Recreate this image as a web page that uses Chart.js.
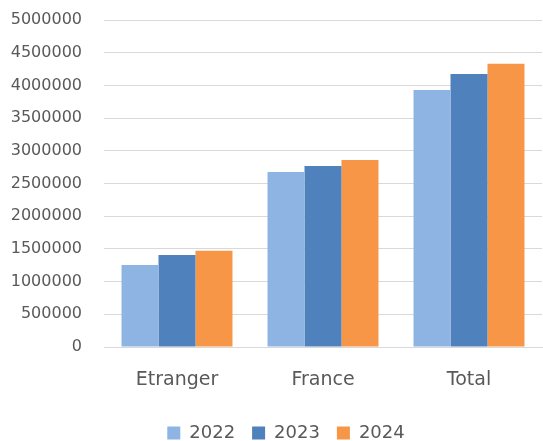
<!DOCTYPE html>
<html>
<head>
<meta charset="utf-8">
<script src="https://cdn.jsdelivr.net/npm/chart.js@4/dist/chart.umd.min.js"></script>
<style>
  body { margin: 0; background: #fff; }
  #wrap { width: 543px; height: 441px; }
</style>
</head>
<body>
<div id="wrap"><canvas id="chart" width="543" height="441"></canvas></div>
<script>
const categories = ["Etranger", "France", "Total"];
const years = ["2022", "2023", "2024"];
const values2022 = [1254000, 2676000, 3930000];
const values2023 = [1407000, 2768000, 4175000];
const values2024 = [1472000, 2859000, 4331000];
const colors = ["#8EB4E3", "#4F81BD", "#F79646"];

const font = "'DejaVu Sans', sans-serif";
const textColor = "#595959";

// the legend in the reference sits a bit right of the canvas middle
const legendShift = {
  id: 'legendShift',
  afterLayout(chart) {
    chart.legend.left += 15;
    chart.legend.right += 15;
  }
};

new Chart(document.getElementById("chart"), {
  type: 'bar',
  data: {
    labels: categories,
    datasets: [values2022, values2023, values2024].map((vals, i) => ({
      label: years[i],
      data: vals,
      backgroundColor: colors[i],
      barPercentage: 1,
      categoryPercentage: 0.76
    }))
  },
  plugins: [legendShift],
  options: {
    responsive: false,
    animation: false,
    // negative bottom padding pushes the legend down near the canvas edge
    layout: { autoPadding: false, padding: { top: 20, right: 1, left: 0, bottom: -11 } },
    plugins: {
      legend: {
        position: 'bottom',
        labels: {
          font: { family: font, size: 18 },
          color: textColor,
          boxWidth: 13,
          boxHeight: 13,
          padding: 17
        }
      },
      tooltip: { enabled: false }
    },
    scales: {
      x: {
        grid: { display: false },
        border: { color: '#d9d9d9', width: 1 },
        ticks: { font: { family: font, size: 19 }, color: textColor, padding: 14 },
        afterFit: s => { s.height = 60; }
      },
      y: {
        min: 0,
        max: 5000000,
        ticks: {
          stepSize: 500000,
          font: { family: font, size: 16 },
          color: textColor,
          padding: 0,
          callback: v => String(v)
        },
        // invisible tick marks keep the labels 22px left of the plot
        grid: { color: '#d9d9d9', tickLength: 22, tickColor: 'rgba(0,0,0,0)' },
        border: { display: false },
        afterFit: s => { s.width = 104; }
      }
    }
  }
});
</script>
</body>
</html>
